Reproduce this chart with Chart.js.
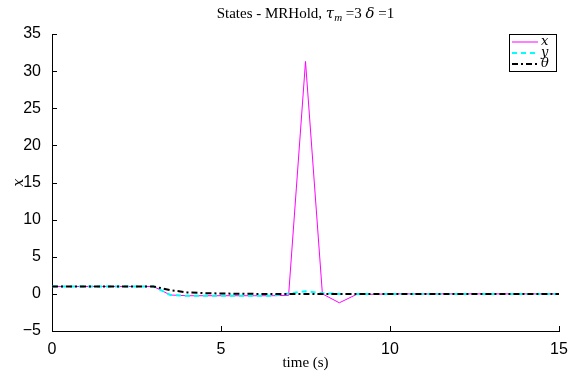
<!DOCTYPE html>
<html>
<head>
<meta charset="utf-8">
<script src="https://cdn.jsdelivr.net/npm/chart.js@4"></script>
<style>
  html, body { margin: 0; padding: 0; background: #fff; }
  #wrap { width: 576px; height: 379px; }
</style>
</head>
<body>
<div id="wrap"><canvas id="statesChart" width="576" height="379"></canvas></div>
<script>
// time samples (s)
const time = [0, 0.5, 1, 1.5, 2, 2.5, 3, 3.5, 4, 4.5, 5, 5.5, 6, 6.5, 7, 7.5, 8, 8.5, 9, 9.5, 10,
  10.5, 11, 11.5, 12, 12.5, 13, 13.5, 14, 14.5, 15];

// state x
const xState = [1, 1, 1, 1, 1, 1, 1, -0.15, -0.25, -0.25, -0.25, -0.25, -0.25, -0.25, -0.2, 31.3, 0, -1.2, -0.1, -0.05, 0,
  0, 0, 0, 0, 0, 0, 0, 0, 0, 0];

// state y
const yState = [1, 1, 1, 1, 1, 1, 1, -0.15, -0.25, -0.25, -0.25, -0.25, -0.25, -0.25, 0.05, 0.35, 0.1, 0, 0, 0, 0,
  0, 0, 0, 0, 0, 0, 0, 0, 0, 0];

// state theta
const thetaState = [1, 1, 1, 1, 1, 1, 1, 0.5, 0.2, 0.1, 0.05, 0.02, 0, 0, 0, 0, 0, 0, 0, 0, 0,
  0, 0, 0, 0, 0, 0, 0, 0, 0, 0];

const xTicks = [0, 5, 10, 15];
const yTicks = [-5, 0, 5, 10, 15, 20, 25, 30, 35];

const toPoints = arr => time.map((t, i) => ({ x: t, y: arr[i] }));

// Title, inward tick marks and boxed legend
const matlabLook = {
    id: 'matlabLook',
    afterDraw(chart) {
        const ctx = chart.ctx;
        const area = chart.chartArea;
        const xs = chart.scales.x;
        const ys = chart.scales.y;

        // inward tick marks
        ctx.save();
        ctx.strokeStyle = '#000';
        ctx.lineWidth = 1;
        ctx.beginPath();
        xTicks.forEach(v => {
            const px = Math.round(xs.getPixelForValue(v)) + 0.5;
            ctx.moveTo(px, area.bottom);
            ctx.lineTo(px, area.bottom - 5);
        });
        yTicks.forEach(v => {
            const py = Math.round(ys.getPixelForValue(v)) + 0.5;
            ctx.moveTo(area.left, py);
            ctx.lineTo(area.left + 5, py);
        });
        ctx.stroke();
        ctx.restore();

        // title
        ctx.save();
        ctx.fillStyle = '#000';
        ctx.textBaseline = 'alphabetic';
        const parts = [
            { t: 'States - MRHold, ', f: '15px "Liberation Serif", serif', dy: 0 },
            { t: 'τ', f: 'italic 15px "DejaVu Serif", serif', dy: 0 },
            { t: 'm', f: 'italic 11px "Liberation Serif", serif', dy: 3 },
            { t: ' =3 ', f: '15px "Liberation Serif", serif', dy: 0 },
            { t: 'δ', f: 'italic 15px "DejaVu Serif", serif', dy: 0 },
            { t: ' =1', f: '15px "Liberation Serif", serif', dy: 0 }
        ];
        let total = 0;
        parts.forEach(p => { ctx.font = p.f; p.w = ctx.measureText(p.t).width; total += p.w; });
        let cx = (area.left + area.right) / 2 - total / 2;
        parts.forEach(p => {
            ctx.font = p.f;
            ctx.fillText(p.t, cx, 18 + p.dy);
            cx += p.w;
        });
        ctx.restore();

        // legend box
        ctx.save();
        const bx = 509.5, by = 34.5, bw = 47, bh = 37;
        ctx.fillStyle = '#fff';
        ctx.fillRect(bx, by, bw, bh);
        ctx.strokeStyle = '#000';
        ctx.lineWidth = 1;
        ctx.strokeRect(bx, by, bw, bh);
        const entries = [
            { label: 'x', color: '#ff00ff', width: 1, dash: [] },
            { label: 'y', color: '#00ffff', width: 2, dash: [5, 4] },
            { label: 'θ', color: '#000000', width: 2, dash: [6, 3, 2, 3] }
        ];
        entries.forEach((e, i) => {
            const ly = 42 + i * 11;
            ctx.beginPath();
            ctx.setLineDash(e.dash);
            ctx.strokeStyle = e.color;
            ctx.lineWidth = e.width;
            ctx.moveTo(512, ly);
            ctx.lineTo(538, ly);
            ctx.stroke();
            ctx.setLineDash([]);
            ctx.fillStyle = '#000';
            ctx.font = 'italic 13px "DejaVu Serif", serif';
            ctx.textBaseline = 'middle';
            ctx.fillText(e.label, 541, ly);
        });
        ctx.restore();
    }
};

new Chart(document.getElementById('statesChart'), {
    type: 'line',
    data: {
        datasets: [
            {
                label: 'x',
                data: toPoints(xState),
                borderColor: '#ff00ff',
                borderWidth: 1,
                pointRadius: 0,
                tension: 0,
                order: 3
            },
            {
                label: 'y',
                data: toPoints(yState),
                borderColor: '#00ffff',
                borderWidth: 2,
                borderDash: [5, 4],
                pointRadius: 0,
                tension: 0,
                order: 2
            },
            {
                label: 'θ',
                data: toPoints(thetaState),
                borderColor: '#000000',
                borderWidth: 2,
                borderDash: [6, 3, 2, 3],
                pointRadius: 0,
                tension: 0,
                order: 1
            }
        ]
    },
    options: {
        responsive: false,
        animation: false,
        layout: { padding: { top: 34, right: 17, left: 0, bottom: 0 } },
        plugins: {
            legend: { display: false },
            tooltip: { enabled: false },
            title: { display: false }
        },
        scales: {
            x: {
                type: 'linear',
                min: 0,
                max: 15,
                afterFit: s => { s.height = 48; },
                afterBuildTicks: s => { s.ticks = xTicks.map(v => ({ value: v })); },
                grid: { display: false },
                border: { display: true, color: '#000', width: 1 },
                ticks: {
                    color: '#000',
                    padding: 1,
                    maxRotation: 0,
                    font: { family: '"Liberation Sans", Arial, sans-serif', size: 16 }
                },
                title: {
                    display: true,
                    text: 'time (s)',
                    color: '#000',
                    padding: { top: 0, bottom: 7 },
                    font: { family: '"Liberation Serif", serif', size: 15 }
                }
            },
            y: {
                min: -5,
                max: 35,
                afterFit: s => { s.width = 52; },
                afterBuildTicks: s => { s.ticks = yTicks.map(v => ({ value: v })); },
                grid: { display: false },
                border: { display: true, color: '#000', width: 1 },
                ticks: {
                    color: '#000',
                    padding: 3,
                    font: { family: '"Liberation Sans", Arial, sans-serif', size: 16 },
                    callback: v => (v < 0 ? '\u2212' + Math.abs(v) : String(v))
                },
                title: {
                    display: true,
                    text: 'x',
                    color: '#000',
                    padding: { top: 11, bottom: 4 },
                    font: { family: '"DejaVu Serif", serif', size: 14, style: 'italic' }
                }
            }
        }
    },
    plugins: [matlabLook]
});
</script>
</body>
</html>
